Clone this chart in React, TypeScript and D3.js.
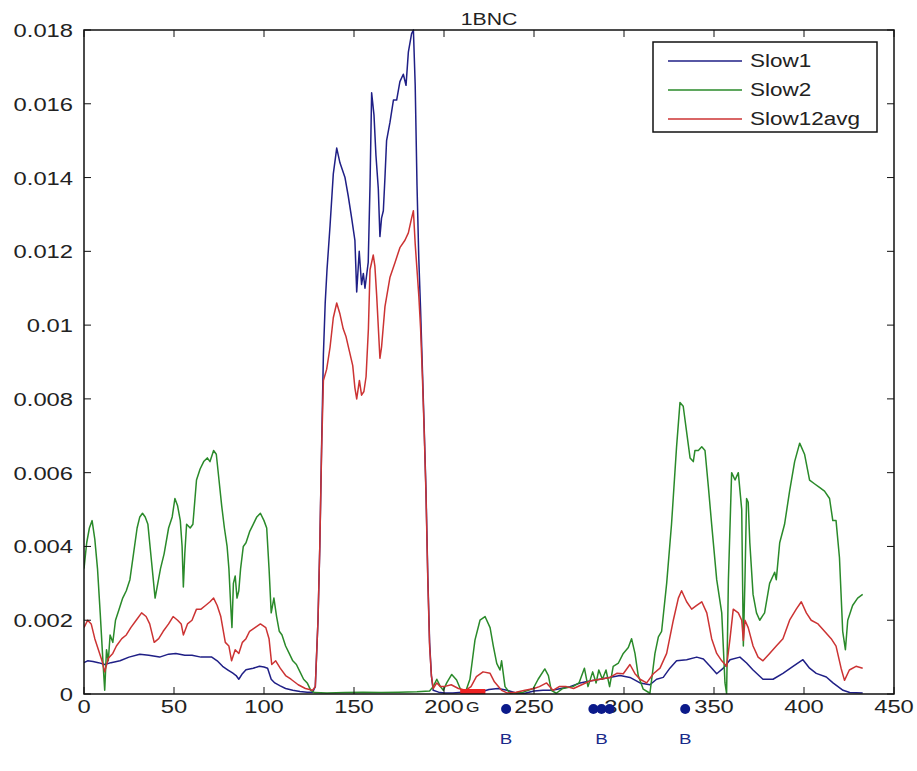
import React from "react";
import * as d3 from "d3";

// axis ticks
const xTicks = [0, 50, 100, 150, 200, 250, 300, 350, 400, 450];
const yTicks = [0, 0.002, 0.004, 0.006, 0.008, 0.01, 0.012, 0.014, 0.016, 0.018];

const seriesNames = ["Slow1", "Slow2", "Slow12avg"];
const seriesColors = ["#1f1f86", "#2a8a2a", "#cc3333"];

// [residue, value]
const slow1: [number, number][] = [
  [0, 0.00085], [2, 0.0009], [5, 0.00088], [8, 0.00085], [11.5, 0.0008], [15, 0.00085], [20, 0.0009],
  [25, 0.001], [31, 0.00108], [36, 0.00105], [42, 0.001], [47, 0.00108], [51, 0.0011], [56, 0.00105],
  [60, 0.00105], [65, 0.001], [71, 0.001], [74, 0.0009], [77, 0.00075], [80, 0.00065], [82.5, 0.00057],
  [84.5, 0.0005], [86, 0.0004], [88, 0.00055], [90, 0.00066], [94, 0.0007], [97.5, 0.00075], [100, 0.00073],
  [102, 0.0007], [104, 0.0004], [106, 0.0003], [109, 0.00022], [112, 0.00015], [116, 0.0001], [120, 0.00007],
  [124, 0.00005], [127, 0.00005], [128.5, 0.0002], [130, 0.002], [131, 0.004], [132, 0.0067], [133, 0.0092],
  [134, 0.0106], [135, 0.0115], [136.7, 0.0127], [138.5, 0.0141], [140.4, 0.0148], [142.2, 0.0144],
  [145, 0.014], [146.8, 0.0135], [148.7, 0.0129], [150.5, 0.0123], [151.5, 0.0109], [152.9, 0.012],
  [154.2, 0.0111], [155.2, 0.0114], [156.1, 0.011], [157.9, 0.0117], [158.9, 0.0138], [159.8, 0.0163],
  [161.1, 0.0157], [162.2, 0.0146], [163.5, 0.0137], [164.4, 0.0124], [165.3, 0.0129], [166.3, 0.0131],
  [167.2, 0.014], [168.1, 0.015], [170, 0.0155], [171.9, 0.0161], [173.7, 0.0161], [175.5, 0.0166],
  [177.4, 0.0168], [178.9, 0.0165], [180.2, 0.0174], [182, 0.0179], [183, 0.018], [184, 0.0165],
  [185, 0.0138], [186, 0.0118], [187, 0.0104], [188, 0.0088], [189, 0.0072], [190, 0.0055], [191, 0.0032],
  [192, 0.0014], [193, 0.0005], [194, 0.0001], [197, 0.00005], [200, 0.00003], [205, 0.00003],
  [210, 0.00005], [215, 0.00003], [220, 0.00005], [225, 0.00012], [230, 0.00015], [235, 0.0001],
  [240, 0.00003], [245, 0.00002], [250, 0.00008], [255, 0.0001], [260, 0.0001], [265, 0.00015],
  [270, 0.0002], [275.6, 0.0003], [281, 0.00035], [286.7, 0.0004], [292, 0.00045], [297.8, 0.0005],
  [303.3, 0.00045], [308.9, 0.0003], [314.4, 0.00025], [318.1, 0.0004], [321.8, 0.00045], [325.5, 0.0007],
  [329.2, 0.0009], [334.8, 0.00093], [340.4, 0.001], [344.1, 0.00095], [347.8, 0.00075], [351.5, 0.00055],
  [355.2, 0.0007], [358.9, 0.00093], [364.4, 0.001], [368.1, 0.00084], [371.7, 0.00065], [377.2, 0.0004],
  [382.8, 0.0004], [388.3, 0.00056], [393.9, 0.00075], [399.4, 0.00093], [403.1, 0.0007], [406.8, 0.00056],
  [412.4, 0.00046], [416.1, 0.0003], [421.7, 0.0001], [425.4, 0.00004], [432.6, 0.00003],
];

const slow2: [number, number][] = [
  [0, 0.0034], [1.5, 0.0041], [3, 0.0045], [4.5, 0.0047], [6, 0.0042], [7.5, 0.0034], [9, 0.0022],
  [10.5, 0.0009], [11.5, 0.0001], [12.5, 0.0012], [13.5, 0.0009], [14.5, 0.0016], [16, 0.0014],
  [17.5, 0.002], [19.5, 0.0023], [21.5, 0.0026], [23.5, 0.0028], [25.5, 0.0031], [27.5, 0.0038],
  [29.5, 0.0045], [31, 0.0048], [32.5, 0.0049], [34, 0.0048], [35.5, 0.0046], [37.5, 0.0036],
  [39.5, 0.0026], [41, 0.003], [42.5, 0.0034], [44.5, 0.0038], [47, 0.0045], [49, 0.0048], [50.5, 0.0053],
  [52, 0.0051], [53.5, 0.0047], [54.5, 0.004], [55.2, 0.0029], [56, 0.0038], [57, 0.0046], [59, 0.0045],
  [60.5, 0.0046], [62.5, 0.0058], [64.5, 0.0061], [66.5, 0.0063], [68.5, 0.0064], [70, 0.0063],
  [72, 0.0066], [73.5, 0.0065], [75, 0.0058], [76.5, 0.0051], [78, 0.0045], [79.5, 0.004], [80.5, 0.0034],
  [81.5, 0.0024], [82.2, 0.0018], [83, 0.003], [84, 0.0032], [85, 0.0026], [86, 0.0028], [87, 0.0034],
  [88.5, 0.004], [90, 0.0041], [92, 0.0044], [94, 0.0046], [96, 0.0048], [98, 0.0049], [100, 0.0047],
  [101.5, 0.0045], [102.8, 0.0034], [104, 0.0022], [105.5, 0.0026], [107, 0.0021], [108.5, 0.0017],
  [110, 0.0016], [112, 0.0013], [114, 0.0011], [116, 0.0009], [118, 0.0008], [120, 0.0006], [122, 0.0004],
  [124, 0.0003], [126, 0.0001], [128, 0.00004], [135, 0.00003], [145, 0.00004], [155, 0.00005],
  [165, 0.00004], [175, 0.00005], [185, 0.00006], [192, 0.00008], [194, 0.0002], [196, 0.0004],
  [198, 0.0002], [199.6, 0.0001], [201.5, 0.0003], [204.3, 0.00053], [207, 0.00038], [209, 0.00015],
  [211.7, 0.00002], [214.4, 0.0004], [217.2, 0.00146], [220, 0.002], [222.8, 0.0021], [225.6, 0.0018],
  [227.4, 0.0013], [229.3, 0.00083], [231.1, 0.00065], [232, 0.0009], [233.9, 0.0002], [236.7, 0.00002],
  [244, 0.00005], [249.6, 0.00015], [252.3, 0.0004], [256, 0.00068], [258, 0.0005], [259.6, 0.0001],
  [262.4, 0.00002], [266, 0.00015], [271.6, 0.0002], [275, 0.0003], [278, 0.0007], [280, 0.0002],
  [282.6, 0.0006], [284.5, 0.0003], [286, 0.00065], [288, 0.0004], [290, 0.00065], [292, 0.0002],
  [294, 0.00075], [296.9, 0.00084], [299.6, 0.0011], [302.4, 0.00126], [304.2, 0.0015], [306.1, 0.0011],
  [307.9, 0.0005], [310.7, 0.00013], [314.4, 0.00002], [317.2, 0.0011], [319.1, 0.00155], [320.9, 0.0017],
  [323.7, 0.003], [326.4, 0.0046], [329.2, 0.0067], [331.1, 0.0079], [332.9, 0.0078], [334.8, 0.0071],
  [336.7, 0.0064], [338.5, 0.0063], [339.4, 0.0066], [341.3, 0.0066], [343.2, 0.0067], [345, 0.0066],
  [346.9, 0.0056], [348.7, 0.0046], [351.5, 0.0031], [354.3, 0.0022], [356.1, 0.0003], [357, 0.00001],
  [358, 0.0031], [359.8, 0.006], [361.7, 0.0058], [363.5, 0.006], [365.4, 0.005], [366.3, 0.0013],
  [367.2, 0.0031], [368.1, 0.0053], [369, 0.0052], [369.9, 0.0041], [371.7, 0.0027], [373.6, 0.0022],
  [375.4, 0.002], [378.1, 0.0022], [380.9, 0.003], [383.7, 0.0033], [384.6, 0.0031], [386.5, 0.0041],
  [389.2, 0.0046], [392, 0.0055], [394.8, 0.0063], [397.6, 0.0068], [400.3, 0.0065], [403.1, 0.0058],
  [405.8, 0.0057], [408.6, 0.0056], [411.4, 0.0055], [414.2, 0.0053], [416, 0.0047], [417.8, 0.0047],
  [419.7, 0.0037], [421.5, 0.0017], [423, 0.0012], [424.3, 0.002], [427, 0.0024], [429.8, 0.0026],
  [432.6, 0.0027],
];

const slow12avg: [number, number][] = [
  [0, 0.0018], [2, 0.002], [4, 0.0019], [6, 0.0015], [8, 0.0012], [10, 0.0009], [11.5, 0.0006],
  [13.5, 0.00097], [16, 0.0011], [18, 0.0013], [21, 0.0015], [23.5, 0.0016], [26, 0.0018], [29, 0.002],
  [32, 0.0022], [34.5, 0.0021], [36.5, 0.0019], [39, 0.0014], [41.5, 0.0015], [44, 0.0017], [47, 0.0019],
  [49.5, 0.0021], [52, 0.002], [54, 0.0019], [55.2, 0.0016], [57.5, 0.0019], [60, 0.002], [62.5, 0.0023],
  [65, 0.0023], [67.5, 0.0024], [70, 0.0025], [72, 0.0026], [74, 0.0024], [76, 0.0021], [78.5, 0.0014],
  [80.5, 0.0013], [82, 0.0009], [84, 0.0012], [86, 0.0011], [88, 0.0014], [90, 0.0015], [92, 0.0017],
  [95, 0.0018], [98, 0.0019], [101, 0.0018], [102.8, 0.0015], [104.3, 0.0008], [106.5, 0.0009],
  [109, 0.0007], [112, 0.0005], [115, 0.0004], [119, 0.00025], [123, 0.00015], [127, 0.0001],
  [128.5, 0.0002], [130, 0.002], [131, 0.004], [132, 0.0066], [133, 0.0085], [134.8, 0.0088],
  [136.7, 0.0094], [138.5, 0.0102], [140.4, 0.0106], [142.2, 0.0103], [144, 0.0099], [145.5, 0.0097],
  [147.4, 0.0093], [149.3, 0.0089], [150.5, 0.0083], [151.5, 0.008], [153, 0.0085], [154.2, 0.0081],
  [155.5, 0.0082], [156.7, 0.0086], [158, 0.0099], [158.9, 0.0115], [160.7, 0.0119], [161.6, 0.0116],
  [162.6, 0.0108], [164.4, 0.0091], [165.3, 0.0094], [167.2, 0.0105], [170, 0.0113], [172.8, 0.0117],
  [175.5, 0.0121], [178.3, 0.0123], [180.2, 0.0125], [182, 0.0129], [183, 0.0131], [184, 0.0122],
  [185, 0.0115], [186, 0.0108], [187, 0.0099], [188, 0.0086], [189, 0.0071], [190, 0.0054], [191, 0.0031],
  [192, 0.0013], [193, 0.0005], [194, 0.00015], [196, 0.0003], [198, 0.0002], [200, 0.0002],
  [204, 0.00025], [208, 0.00015], [212, 0.0001], [215, 0.0002], [218, 0.00047], [221.7, 0.0006],
  [225.6, 0.00056], [228, 0.00033], [232, 0.0001], [235, 0.00003], [240, 0.00005], [245, 0.0001],
  [250, 0.00015], [253, 0.0002], [257, 0.0003], [260.5, 0.0001], [264, 0.0002], [268, 0.0002],
  [272, 0.00015], [275.6, 0.00023], [281, 0.00035], [286.7, 0.0004], [292.2, 0.00045], [296, 0.00056],
  [299.6, 0.00055], [303.3, 0.0008], [306.1, 0.00055], [308.9, 0.0004], [312.6, 0.0003], [316.3, 0.00055],
  [320, 0.0007], [323.7, 0.0011], [327.4, 0.002], [330.2, 0.0026], [332, 0.0028], [334.8, 0.0025],
  [337.6, 0.0023], [340.4, 0.0024], [343.2, 0.0025], [346, 0.0022], [348.7, 0.0015], [351.5, 0.0011],
  [354.3, 0.0009], [357, 0.00075], [358.9, 0.0015], [360.7, 0.0023], [363.5, 0.0022], [365.4, 0.002],
  [366.3, 0.00145], [367.2, 0.002], [369, 0.0018], [371.7, 0.0013], [374.5, 0.001], [377.2, 0.0009],
  [380.9, 0.0011], [384.6, 0.0013], [388.3, 0.0015], [392, 0.002], [395.7, 0.0023], [398.5, 0.0025],
  [401.3, 0.0022], [404, 0.002], [407.8, 0.0019], [411.4, 0.0017], [415.1, 0.0015], [417.8, 0.0013],
  [420.6, 0.0007], [422.5, 0.00037], [425.2, 0.00065], [428.9, 0.00075], [432.6, 0.0007],
];

// annotations under the axis
const bSites = [234.5, 283, 287.5, 292, 334];
const bLabels = [234.5, 287.5, 334];
const gRegion = [209, 223];
const gLabelAt = 215.5;

const W = 917;
const H = 771;
const margin = { top: 30, right: 23, bottom: 77, left: 84 };
const font = "'Liberation Sans', Arial, Helvetica, sans-serif";

// MATLAB-ish stretched text
function Txt({ x, y, anchor = "middle", size = 19, fill = "#222", children }: any) {
  return (
    <text
      transform={`translate(${x},${y}) scale(1.25,1)`}
      textAnchor={anchor}
      fontSize={size}
      fontFamily={font}
      fill={fill}
    >
      {children}
    </text>
  );
}

export default function App() {
  const x = d3.scaleLinear().domain([0, 450]).range([margin.left, W - margin.right]);
  const y = d3.scaleLinear().domain([0, 0.018]).range([H - margin.bottom, margin.top]);
  const line = d3
    .line<[number, number]>()
    .x((d) => x(d[0]))
    .y((d) => y(d[1]));

  const series = [slow1, slow2, slow12avg];
  const x0 = x(0), x1 = x(450), y0 = y(0), y1 = y(0.018);
  const tickLen = 7;

  return (
    <svg width={W} height={H} style={{ position: "absolute", left: 0, top: 0 }}>
      <rect width={W} height={H} fill="#fff" />
      <defs>
        <clipPath id="plot">
          <rect x={x0} y={y1 - 1} width={x1 - x0} height={y0 - y1 + 1} />
        </clipPath>
      </defs>

      {/* title */}
      <Txt x={(x0 + x1) / 2} y={25} size={17}>1BNC</Txt>

      {/* lines */}
      <g clipPath="url(#plot)">
        {series.map((s, i) => (
          <path key={seriesNames[i]} d={line(s) || ""} fill="none" stroke={seriesColors[i]} strokeWidth={1.5} strokeLinejoin="round" />
        ))}
      </g>

      {/* red region on the axis */}
      <rect x={x(gRegion[0])} y={y0 - 5} width={x(gRegion[1]) - x(gRegion[0])} height={5} fill="#ee2222" />

      {/* frame */}
      <rect x={x0} y={y1} width={x1 - x0} height={y0 - y1} fill="none" stroke="#111" strokeWidth={1.5} />

      {/* ticks */}
      {xTicks.map((t) => (
        <g key={`x${t}`}>
          <line x1={x(t)} x2={x(t)} y1={y0} y2={y0 - tickLen} stroke="#111" />
          <line x1={x(t)} x2={x(t)} y1={y1} y2={y1 + tickLen} stroke="#111" />
          <Txt x={x(t)} y={y0 + 19}>{t}</Txt>
        </g>
      ))}
      {yTicks.map((t) => (
        <g key={`y${t}`}>
          <line x1={x0} x2={x0 + tickLen} y1={y(t)} y2={y(t)} stroke="#111" />
          <line x1={x1} x2={x1 - tickLen} y1={y(t)} y2={y(t)} stroke="#111" />
          <Txt x={x0 - 11} y={y(t) + 7} anchor="end">{String(+t.toFixed(3))}</Txt>
        </g>
      ))}

      {/* G and B annotations */}
      <Txt x={x(gLabelAt) + 1} y={y0 + 18} size={14}>G</Txt>
      {bSites.map((b, i) => (
        <circle key={`b${i}`} cx={x(b)} cy={y0 + 15} r={5} fill="#0b1a8a" />
      ))}
      {bLabels.map((b, i) => (
        <Txt key={`bl${i}`} x={x(b)} y={y0 + 50} size={15} fill="#1a2a8a">B</Txt>
      ))}

      {/* legend */}
      <g>
        <rect x={653} y={42} width={224} height={90} fill="#fff" stroke="#111" strokeWidth={1.5} />
        {seriesNames.map((n, i) => (
          <g key={n}>
            <line x1={668} x2={742} y1={61 + i * 29} y2={61 + i * 29} stroke={seriesColors[i]} strokeWidth={1.5} />
            <Txt x={750} y={67 + i * 29} anchor="start" size={18}>{n}</Txt>
          </g>
        ))}
      </g>
    </svg>
  );
}
